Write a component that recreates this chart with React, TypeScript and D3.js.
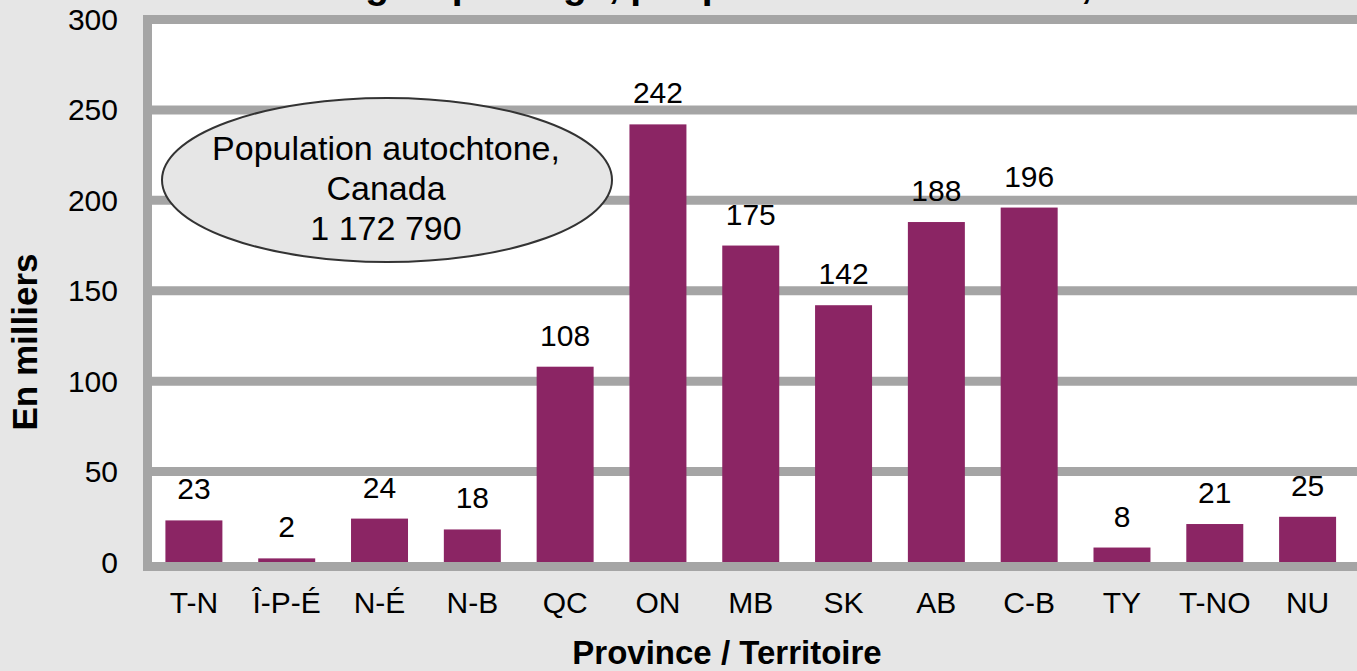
import React from 'react';
import * as d3 from 'd3';

const categories = ['T-N', 'Î-P-É', 'N-É', 'N-B', 'QC', 'ON', 'MB', 'SK', 'AB', 'C-B', 'TY', 'T-NO', 'NU'];
const values = [23, 2, 24, 18, 108, 242, 175, 142, 188, 196, 8, 21, 25];
const yTicks = [0, 50, 100, 150, 200, 250, 300];
const calloutLines = ['Population autochtone,', 'Canada', '1 172 790'];

const W = 1357;
const H = 671;
const FONT = '"Liberation Sans", Arial, Helvetica, sans-serif';

export default function App() {
  // plot frame
  const left = 147.5;
  const right = 1354;
  const y = d3.scaleLinear().domain([0, 300]).range([562, 19.5]);
  const x = d3.scaleBand<string>()
    .domain(categories)
    .range([left, right])
    .paddingInner(0.386)
    .paddingOuter(0.193);

  const gridColor = '#a5a5a5';
  const barColor = '#8b2564';

  return (
    <svg width={W} height={H} style={{ position: 'absolute', left: 0, top: 0, display: 'block' }}
      fontFamily={FONT}>
      <rect x={0} y={0} width={W} height={H} fill="#e6e6e6" />

      {/* title, mostly cut off at the top edge */}
      <text x={-40} y={-2} fontSize={39} fontWeight="bold" fill="#000">
        Autochtones selon le groupe d'âge, par province et territoire, 2006
      </text>

      {/* plot area */}
      <rect x={left} y={y(300)} width={W - left + 10} height={y(0) - y(300)} fill="#fff" />

      {yTicks.filter(t => t > 0).map(t => (
        <line key={t} x1={left - 4.5} x2={W + 10} y1={y(t)} y2={y(t)}
          stroke={gridColor} strokeWidth={9} />
      ))}
      <line x1={left} x2={left} y1={y(300) - 4.5} y2={y(0) + 9} stroke={gridColor} strokeWidth={9} />
      <line x1={left - 4.5} x2={W + 10} y1={y(0) + 4.5} y2={y(0) + 4.5} stroke={gridColor} strokeWidth={9} />

      {/* bars */}
      {categories.map((c, i) => (
        <rect key={c} x={x(c)} y={y(values[i])} width={x.bandwidth()}
          height={y(0) - y(values[i])} fill={barColor} />
      ))}

      {/* value labels */}
      {categories.map((c, i) => (
        <text key={c} x={(x(c) ?? 0) + x.bandwidth() / 2} y={y(values[i]) - 21}
          textAnchor="middle" fontSize={30} fill="#000">{values[i]}</text>
      ))}

      {/* y tick labels */}
      {yTicks.map(t => (
        <text key={t} x={118} y={y(t)} dy="0.35em" textAnchor="end" fontSize={30} fill="#000">{t}</text>
      ))}

      {/* category labels */}
      {categories.map(c => (
        <text key={c} x={(x(c) ?? 0) + x.bandwidth() / 2} y={613}
          textAnchor="middle" fontSize={30} fill="#000">{c}</text>
      ))}

      {/* axis titles */}
      <text transform={`translate(37, 342) rotate(-90)`} textAnchor="middle"
        fontSize={35} fontWeight="bold" fill="#000">En milliers</text>
      <text x={727} y={664} textAnchor="middle" fontSize={33} fontWeight="bold" fill="#000">
        Province / Territoire
      </text>

      {/* callout */}
      <ellipse cx={387} cy={180} rx={225} ry={82} fill="#e6e6e6" stroke="#333" strokeWidth={2} />
      {calloutLines.map((l, i) => (
        <text key={l} x={386} y={160 + i * 40} textAnchor="middle" fontSize={34} fill="#000">{l}</text>
      ))}
    </svg>
  );
}
